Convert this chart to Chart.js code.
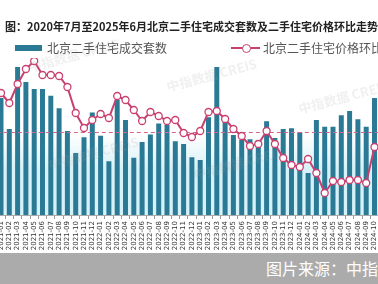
<!DOCTYPE html>
<html>
<head>
<meta charset="utf-8">
<script src="https://cdn.jsdelivr.net/npm/chart.js@4.4.0/dist/chart.umd.min.js"></script>
<style>
  body { margin: 0; width: 378px; height: 284px; overflow: hidden; background: #fff; position: relative;
         font-family: "Noto Sans CJK SC", "Noto Sans", sans-serif; }
  #title { position: absolute; left: 5px; top: 19px; font-size: 11px; line-height: 15px; font-weight: bold; color: #222; white-space: nowrap; }
  .leg { position: absolute; top: 39px; font-size: 12px; line-height: 17px; color: #555; white-space: nowrap; }
  #box1 { position: absolute; left: 15px; top: 45px; width: 27px; height: 6px; background: #2a7a96; }
  #lline { position: absolute; left: 231px; top: 47px; width: 29px; height: 2px; background: #c9406f; }
  #ldot { position: absolute; left: 242px; top: 44px; width: 7px; height: 7px; border: 1.3px solid #c9406f; border-radius: 50%; background: #fff; }
  #chartBox { position: absolute; left: -10px; top: 0; width: 400px; height: 284px; }
  #band { position: absolute; left: 0; top: 253px; width: 378px; height: 31px; background: #ababab; }
  #src { position: absolute; left: 266px; top: 257px; font-size: 16px; line-height: 22px; color: #fff; white-space: nowrap; }
</style>
</head>
<body>
<div id="chartBox"><canvas id="chart"></canvas></div>
<div id="title">图：2020年7月至2025年6月北京二手住宅成交套数及二手住宅价格环比走势</div>
<div id="box1"></div>
<div class="leg" style="left:47px">北京二手住宅成交套数</div>
<div id="lline"></div>
<div id="ldot"></div>
<div class="leg" style="left:263px">北京二手住宅价格环比</div>
<div id="band"></div>
<div id="src">图片来源：中指数据</div>
<script>
// visible part of the chart: 2021-01 .. 2024-10
const months = [
  "2021-01","2021-02","2021-03","2021-04","2021-05","2021-06","2021-07","2021-08","2021-09","2021-10","2021-11","2021-12",
  "2022-01","2022-02","2022-03","2022-04","2022-05","2022-06","2022-07","2022-08","2022-09","2022-10","2022-11","2022-12",
  "2023-01","2023-02","2023-03","2023-04","2023-05","2023-06","2023-07","2023-08","2023-09","2023-10","2023-11","2023-12",
  "2024-01","2024-02","2024-03","2024-04","2024-05","2024-06","2024-07","2024-08","2024-09","2024-10"
];

// 北京二手住宅成交套数
const volume = [
  17000, 12500, 21500, 19300, 18300, 18300, 17300, 15500, 12200, 9000, 11300, 14900,
  11500, 7800, 16700, 13800, 8300, 10600, 11700, 13300, 13100, 10700, 10300, 8400,
  8000, 14200, 21500, 13500, 11600, 10900, 11000, 10900, 13600, 11200, 12500, 12600,
  12000, 6100, 13800, 12800, 12800, 14500, 15100, 13900, 12800, 17000
];

// 北京二手住宅价格环比 (%)
const priceMoM = [
  0.78, 0.58, 0.96, 1.26, 1.42, 1.14, 1.14, 1.12, 0.90, 0.38, 0.08, 0.24,
  0.36, 0.28, 0.72, 0.64, 0.44, 0.22, 0.40, 0.32, 0.22, 0.24, -0.02, -0.10,
  0.02, 0.40, 0.42, 0.26, 0.06, -0.08, -0.28, -0.24, 0.02, -0.24, -0.52, -0.66,
  -0.70, -0.54, -0.82, -1.22, -0.98, -1.00, -0.96, -0.96, -1.02, -0.30
];

const teal = "#2a7a96";
const pink = "#c9406f";

// light cyan haze behind the lower part of the bars
const haze = {
  id: "haze",
  beforeDatasetsDraw(chart) {
    const { ctx, chartArea } = chart;
    const g = ctx.createLinearGradient(0, 135, 0, 170);
    g.addColorStop(0, "rgba(214,241,247,0)");
    g.addColorStop(1, "rgba(214,241,247,1)");
    ctx.save();
    ctx.fillStyle = g;
    ctx.fillRect(chartArea.left, 135, chartArea.right - chartArea.left, chartArea.bottom - 135);
    ctx.restore();
  }
};

// dashed zero line of the right axis, drawn over the bars
const zeroLine = {
  id: "zeroLine",
  afterDatasetDraw(chart, args) {
    if (args.index !== 0) return;
    const { ctx, chartArea, scales } = chart;
    const y = Math.round(scales.y1.getPixelForValue(0)) + 0.5;
    ctx.save();
    ctx.strokeStyle = "#d4688c";
    ctx.lineWidth = 1.2;
    ctx.setLineDash([4, 3]);
    ctx.beginPath();
    ctx.moveTo(chartArea.left, y);
    ctx.lineTo(chartArea.right, y);
    ctx.stroke();
    ctx.restore();
  }
};

// faint "中指数据 CREIS" watermarks
const watermark = {
  id: "watermark",
  afterDatasetsDraw(chart) {
    const ctx = chart.ctx;
    ctx.save();
    ctx.fillStyle = "rgba(160,160,160,0.16)";
    ctx.font = "bold 13px 'Noto Sans CJK SC'";
    [[40, 72], [178, 92], [310, 114], [60, 170], [205, 180]].forEach(([x, y]) => {
      ctx.save();
      ctx.translate(x, y);
      ctx.rotate(-0.26);
      ctx.fillText("中指数据 CREIS", 0, 0);
      ctx.restore();
    });
    ctx.restore();
  }
};

new Chart(document.getElementById("chart"), {
  data: {
    labels: months,
    datasets: [
      {
        type: "bar",
        label: "北京二手住宅成交套数",
        data: volume,
        backgroundColor: teal,
        yAxisID: "y",
        barPercentage: 0.6,
        categoryPercentage: 1,
        order: 1
      },
      {
        type: "line",
        label: "北京二手住宅价格环比",
        data: priceMoM,
        borderColor: pink,
        borderWidth: 2,
        pointRadius: 3.5,
        pointBackgroundColor: "#fff",
        pointBorderColor: pink,
        pointBorderWidth: 1.3,
        tension: 0,
        yAxisID: "y1",
        order: 0
      }
    ]
  },
  options: {
    responsive: true,
    maintainAspectRatio: false,
    animation: false,
    layout: { padding: { left: 6.85, right: 11.35, top: 58, bottom: 0 } },
    plugins: { legend: { display: false }, tooltip: { enabled: false } },
    scales: {
      x: {
        grid: { display: true, drawOnChartArea: false, drawTicks: true, tickLength: 4, color: "#999" },
        border: { display: true, color: "#aaa" },
        ticks: {
          font: { size: 7, family: "DejaVu Sans" },
          color: "#333",
          minRotation: 90,
          maxRotation: 90,
          autoSkip: false,
          padding: 2
        },
        afterFit(scale) { scale.height = 69; }
      },
      y: { display: false, min: 0, max: 22800 },
      y1: { display: false, min: -1.66, max: 1.48 }
    }
  },
  plugins: [haze, watermark, zeroLine]
});
</script>
</body>
</html>
